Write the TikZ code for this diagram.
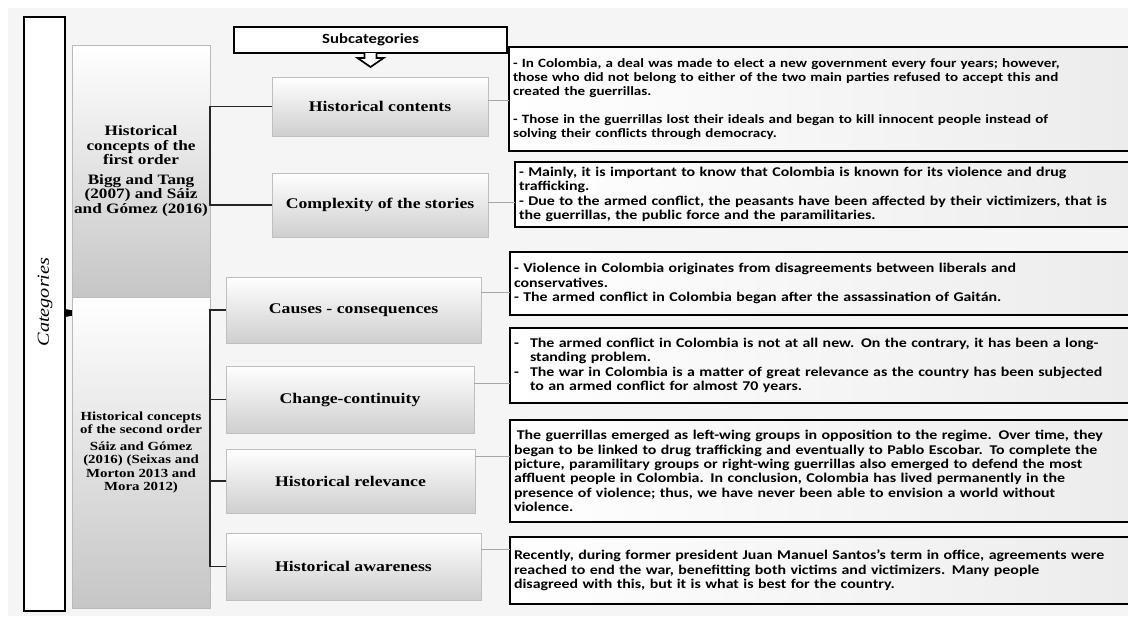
\documentclass[tikz,border=0pt]{standalone}
\usepackage{fontspec}
\newfontfamily\notefont[FakeStretch=1.19]{Carlito}
\newfontfamily\boxfont[FakeStretch=1.2]{Liberation Serif}
\usetikzlibrary{shadows,positioning}

\begin{document}
\begin{tikzpicture}[
    x=0.025cm, y=-0.025cm,
    catbox/.style={draw, line width=1.4pt, fill=white, anchor=north west, inner sep=0pt, outer sep=0pt},
    levelbox/.style={draw=gray!55, top color=white, bottom color=gray!45, anchor=north west, align=center, inner sep=1pt, outer sep=0pt, minimum width=3.45cm},
    headbox/.style={draw, line width=1.3pt, fill=white, anchor=north west, outer sep=0pt, minimum width=6.825cm, minimum height=0.65cm, font=\notefont\fontsize{10}{12}\selectfont\bfseries},
    subbox/.style={draw=gray!50, top color=white, bottom color=gray!38, anchor=north west, outer sep=0pt, font=\boxfont\fontsize{10.5}{12}\selectfont\bfseries, drop shadow={shadow xshift=1pt, shadow yshift=-1pt, opacity=.35}},
    notebox/.style={draw, line width=1.3pt, left color=white, right color=gray!15, anchor=north west, align=left, inner xsep=0.1cm, outer sep=0pt, text width=15.4cm, font=\notefont\fontsize{9.5}{10.2}\selectfont\bfseries},
    bracket/.style={line width=1pt, black!85},
    link/.style={gray!70, line width=0.6pt}
]
\useasboundingbox (0,0) rectangle (1128,620);
\fill[gray!8] (8,8) rectangle (1128,616);

% categories column
\node[catbox, minimum width=1.025cm, minimum height=14.85cm] (cat) at (24,17) {};
\node[rotate=90, font=\boxfont\fontsize{12}{14}\selectfont\itshape] (catlabel) at (45,302) {Categories};
\coordinate (catptr) at (87,313);
\fill (catptr) -- ++(-22,-4) -- ++(0,8) -- cycle;

\node[levelbox, minimum height=6.3cm, font=\boxfont\fontsize{10.2}{10.6}\selectfont\bfseries] (first) at (72,45)
    {Historical\\concepts of the\\first order\\[3pt]Bigg and Tang\\(2007) and Sáiz\\and Gómez (2016)};
\node[levelbox, minimum height=7.775cm, font=\boxfont\fontsize{8.8}{9.6}\selectfont\bfseries] (second) at (72,297)
    {Historical concepts\\of the second order\\[2pt]Sáiz and Gómez\\(2016) (Seixas and\\Morton 2013 and\\Mora 2012)};

% subcategories
\node[headbox] (subcat) at (234,27) {Subcategories};
\draw[line width=1.2pt, fill=white] (subcat.south) ++(-6,0) -- ++(0,5) -- ++(-7,0) -- ++(13,9) -- ++(13,-9) -- ++(-7,0) -- ++(0,-5);

\node[subbox, minimum width=5.4cm, minimum height=1.475cm] (hc) at (272,77) {Historical contents};
\node[subbox, minimum width=5.4cm, minimum height=1.6cm] (cs) at (272,173) {Complexity of the stories};
\node[subbox, minimum width=6.375cm, minimum height=1.65cm] (cc) at (226,277) {Causes - consequences};
\node[subbox, minimum width=6.2cm, minimum height=1.675cm] (ch) at (226,366) {Change-continuity};
\node[subbox, minimum width=6.225cm, minimum height=1.6cm] (hr) at (226,449) {Historical relevance};
\node[subbox, minimum width=6.375cm, minimum height=1.675cm] (ha) at (226,533) {Historical awareness};

\draw[bracket] (hc.west) -- (hc.west -| first.east) -- (cs.west -| first.east) -- (cs.west);
\draw[bracket] (cc.west) -- (cc.west -| second.east) -- (ha.west -| second.east) -- (ha.west);
\draw[bracket] (ch.west) -- (ch.west -| second.east);
\draw[bracket] (hr.west) -- (hr.west -| second.east);

% notes
\node[notebox, minimum height=2.6cm, font=\notefont\fontsize{9}{10}\selectfont\bfseries] (r1) at (509,47)
    {- In Colombia, a deal was made to elect a new government every four years; however,\\
     those who did not belong to either of the two main parties refused to accept this and\\
     created the guerrillas.\\[10pt]
     - Those in the guerrillas lost their ideals and began to kill innocent people instead of\\
     solving their conflicts through democracy.};
\node[notebox, minimum height=1.625cm] (r2) at (515,162)
    {- Mainly, it is important to know that Colombia is known for its violence and drug\\
     trafficking.\\
     - Due to the armed conflict, the peasants have been affected by their victimizers, that is\\
     the guerrillas, the public force and the paramilitaries.};
\node[notebox, minimum height=1.575cm] (r3) at (510,252)
    {- Violence in Colombia originates from disagreements between liberals and\\
     conservatives.\\
     - The armed conflict in Colombia began after the assassination of Gaitán.};
\node[notebox, minimum height=1.875cm] (r4) at (510,328)
    {\makebox[0.4cm][l]{-}The armed conflict in Colombia is not at all new. On the contrary, it has been a long-\\
     \hspace*{0.4cm}standing problem.\\
     \makebox[0.4cm][l]{-}The war in Colombia is a matter of great relevance as the country has been subjected\\
     \hspace*{0.4cm}to an armed conflict for almost 70 years.};
\node[notebox, minimum height=2.55cm] (r5) at (510,420)
    {\hspace*{2pt}The guerrillas emerged as left-wing groups in opposition to the regime. Over time, they\\
     began to be linked to drug trafficking and eventually to Pablo Escobar. To complete the\\
     picture, paramilitary groups or right-wing guerrillas also emerged to defend the most\\
     affluent people in Colombia. In conclusion, Colombia has lived permanently in the\\
     presence of violence; thus, we have never been able to envision a world without\\
     violence.};
\node[notebox, minimum height=1.675cm] (r6) at (510,537)
    {Recently, during former president Juan Manuel Santos’s term in office, agreements were\\
     reached to end the war, benefitting both victims and victimizers. Many people\\
     disagreed with this, but it is what is best for the country.};

% links
\coordinate (hcout) at ([yshift=6*0.025cm]hc.east);
\coordinate (csout) at ([yshift=3*0.025cm]cs.east);
\coordinate (ccout) at ([yshift=18*0.025cm]cc.east);
\coordinate (chout) at ([yshift=16*0.025cm]ch.east);
\coordinate (hrout) at ([yshift=25*0.025cm]hr.east);
\coordinate (haout) at ([yshift=17*0.025cm]ha.east);
\draw[link] (hcout) -- (hcout -| r1.west);
\draw[link] (csout) -- (csout -| r2.west);
\draw[link] (ccout) -- (ccout -| r3.west);
\draw[link] (chout) -- (chout -| r4.west);
\draw[link] (hrout) -- (hrout -| r5.west);
\draw[link] (haout) -- (haout -| r6.west);
\end{tikzpicture}
\end{document}
